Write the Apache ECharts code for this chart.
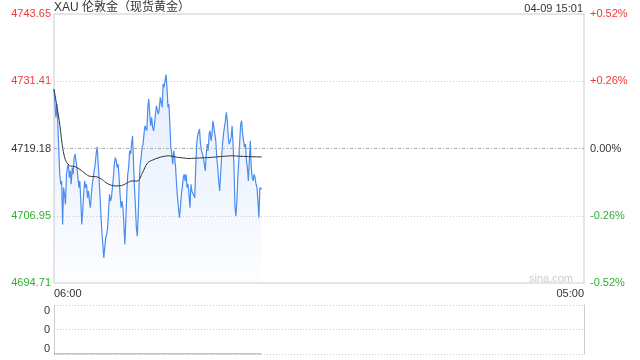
<!DOCTYPE html>
<html><head><meta charset="utf-8">
<script src="https://cdn.jsdelivr.net/npm/echarts@6/dist/echarts.min.js"></script>
<style>html,body{margin:0;padding:0;background:#fff}#c{width:640px;height:360px}</style>
</head><body><div id="c"></div>
<script>
const titleText = 'XAU 伦敦金（现货黄金）';
const stampText = '04-09 15:01';
const watermark = 'sina.com';
const startTime = '06:00';
const endTime = '05:00';
const lastTime = '15:01';
const prevClose = 4719.18;
const priceTicks = [4694.71, 4706.95, 4719.18, 4731.41, 4743.65];
const pctTicks = [-0.52, -0.26, 0, 0.26, 0.52];
const volumeTicks = [0, 1, 2];

const prices = [
4730.01,4727.28,4724.84,4727.28,4723.93,4718.76,4714.50,4712.67,4713.28,4705.37,
4712.06,4710.85,4709.02,4714.50,4715.72,4716.32,4713.89,4715.11,4712.67,4715.72,
4714.50,4717.54,4718.15,4718.15,4715.72,4713.89,4712.06,4713.28,4709.63,4705.37,
4707.81,4710.85,4713.28,4712.06,4712.67,4710.24,4711.46,4709.63,4708.41,4710.85,
4712.67,4713.89,4715.11,4716.32,4718.15,4719.49,4716.93,4713.89,4710.85,4707.20,
4704.15,4701.72,4699.29,4701.11,4702.94,4703.54,4704.76,4707.81,4710.85,4709.63,
4710.24,4712.06,4713.89,4716.32,4717.54,4716.93,4715.72,4716.32,4713.89,4710.85,
4708.41,
4709.63,4708.41,4705.37,4701.72,4705.98,4710.85,4714.50,4715.72,4718.76,4718.15,
4719.97,4721.50,4716.93,4712.06,4709.02,4704.76,4703.24,4707.20,4713.28,4716.32,
4717.54,4719.37,4719.97,4721.80,4723.32,4723.02,4722.41,4726.67,4728.19,4725.45,
4723.32,4724.84,4723.02,4722.41,4723.63,4725.45,4726.97,4726.06,4725.45,4726.36,
4728.49,4728.19,4726.67,4730.93,4730.32,4731.54,4732.63,4730.32,4726.67,4727.28,
4723.63,4719.37,4718.15,4716.32,4718.76,4717.54,4715.72,4712.67,4710.24,4708.41,
4706.59,4708.41,4710.85,4712.06,4713.89,4714.50,4713.28,4714.50,4712.06,4712.67,
4710.85,4708.41,4712.67,4711.46,
4711.46,4711.46,4710.24,4715.72,4719.97,4721.50,4722.10,4722.71,4719.97,4718.76,
4719.06,4717.54,4716.32,4715.11,4718.15,4719.97,4718.76,4721.80,4722.41,4720.58,
4721.80,4724.23,4723.02,4721.80,4720.58,4717.54,4715.72,4713.28,4711.46,4714.50,
4717.54,4719.97,4721.80,4723.02,4724.23,4725.76,4724.23,4721.19,4719.97,4720.58,
4721.19,4723.32,4719.97,4715.72,4708.41,4706.89,4709.63,4713.89,4716.93,4720.58,
4723.63,4724.23,4721.80,4720.58,4719.37,4719.97,4716.93,4715.72,4713.28,4716.93,
4720.58,4715.72,4713.89,4713.28,4714.50,4713.89,4712.67,4712.06,4709.63,4706.59,
4712.06,4712.37,4711.76
];

const avgPrices = [
4729.95,4724.29,4717.72,4716.08,4715.89,4715.35,4714.62,4714.11,4714.07,4713.70,
4712.97,4712.50,4712.37,4712.43,4712.88,4713.28,4713.25,4714.71,4716.53,4717.08,
4717.45,4717.72,4717.85,4717.72,4717.54,4717.45,4717.35,4717.41,4717.45,4717.50,
4717.54,4717.63,4717.72,4717.77,4717.85,4717.81,4717.76,4717.72,4717.68,4717.67,
4717.63
];

const volumeTimes = ['06:00', '15:01'];
const volumes = [0, 0];

function toMin(t) {
  const [h, m] = t.split(':').map(Number);
  const [sh, sm] = startTime.split(':').map(Number);
  let d = h * 60 + m - (sh * 60 + sm);
  if (d < 0) d += 1440;
  return d;
}
function fmtMin(v) {
  const [sh, sm] = startTime.split(':').map(Number);
  const t = (sh * 60 + sm + v) % 1440;
  return String(Math.floor(t / 60)).padStart(2, '0') + ':' + String(t % 60).padStart(2, '0');
}
const endMin = toMin(endTime) === 0 ? 1440 : toMin(endTime);
const lastMin = toMin(lastTime);

const priceData = prices.map((p, i) => [i * lastMin / (prices.length - 1), p]);
const avgData = avgPrices.map((p, i) => [i * lastMin / (avgPrices.length - 1), p]);
const volData = volumes.map((v, i) => [toMin(volumeTimes[i]), v]);

const RED = '#f03838', GREEN = '#2db22d', DARK = '#333';
const FONT = '"Liberation Sans", Arial, "Noto Sans CJK SC", sans-serif';
function priceColor(v) {
  v = Number(v);
  if (Math.abs(v - prevClose) < 0.005) return DARK;
  return v > prevClose ? RED : GREEN;
}
function pctColor(v) {
  v = Number(v);
  if (Math.abs(v) < 1e-6) return DARK;
  return v > 0 ? RED : GREEN;
}

const chart = echarts.init(document.getElementById('c'), null, { renderer: 'canvas' });
chart.setOption({
  animation: false,
  textStyle: { fontFamily: FONT },
  title: [
    { text: titleText, left: 54, top: 2, padding: 0,
      textStyle: { fontSize: 12, fontWeight: 'normal', color: DARK, fontFamily: FONT } },
    { text: stampText, right: 57, top: 3, padding: 0,
      textStyle: { fontSize: 11, fontWeight: 'normal', color: DARK, fontFamily: FONT } }
  ],
  graphic: [
    { type: 'text', right: 67, top: 273,
      style: { text: watermark, fill: '#cccccc', font: '11px ' + FONT } }
  ],
  grid: [
    { left: 54, right: 56, top: 14, height: 269, show: true, borderColor: '#cccccc', borderWidth: 1, backgroundColor: 'transparent' },
    { left: 54, right: 56, top: 305, height: 49 }
  ],
  xAxis: [
    { type: 'value', gridIndex: 0, min: 0, max: endMin, interval: endMin,
      axisLine: { show: false }, axisTick: { show: false }, splitLine: { show: false },
      axisLabel: { show: true, formatter: v => fmtMin(v), color: DARK, fontSize: 11, margin: 5,
        alignMinLabel: 'left', alignMaxLabel: 'right', fontFamily: FONT } },
    { type: 'value', gridIndex: 1, min: 0, max: endMin, interval: endMin,
      axisLine: { show: false }, axisTick: { show: false }, splitLine: { show: false },
      axisLabel: { show: false } }
  ],
  yAxis: [
    { type: 'value', gridIndex: 0, position: 'left', min: priceTicks[0], max: priceTicks[priceTicks.length - 1],
      axisLine: { show: false }, axisTick: { show: false, customValues: priceTicks }, splitLine: { show: false },
      axisLabel: { customValues: priceTicks, formatter: v => Number(v).toFixed(2), color: v => priceColor(v),
        fontSize: 11, margin: 3, fontFamily: FONT } },
    { type: 'value', gridIndex: 0, position: 'right', min: pctTicks[0], max: pctTicks[pctTicks.length - 1], interval: 0.26,
      axisLine: { show: false }, axisTick: { show: false },
      splitLine: { show: true, lineStyle: { color: ['rgba(0,0,0,0)', '#cfcfcf', 'rgba(0,0,0,0)', '#cfcfcf', 'rgba(0,0,0,0)'], type: [1, 2], width: 1 } },
      axisLabel: { formatter: v => { const n = Number(v); return (n > 1e-6 ? '+' : '') + n.toFixed(2) + '%'; },
        color: v => pctColor(v), fontSize: 11, margin: 6, fontFamily: FONT } },
    { type: 'value', gridIndex: 1, position: 'left', min: volumeTicks[0], max: volumeTicks[volumeTicks.length - 1], interval: 1,
      axisLine: { show: true, lineStyle: { color: '#cccccc' } }, axisTick: { show: false },
      splitLine: { show: true, lineStyle: { color: '#c8c8c8', type: [1, 2] } },
      axisLabel: { formatter: () => '0', color: DARK, fontSize: 11, margin: 4,
        verticalAlignMinLabel: 'bottom', verticalAlignMaxLabel: 'top', fontFamily: FONT } },
    { type: 'value', gridIndex: 1, position: 'right', min: volumeTicks[0], max: volumeTicks[volumeTicks.length - 1], interval: 1,
      axisLine: { show: true, lineStyle: { color: '#cccccc' } }, axisTick: { show: false },
      splitLine: { show: false }, axisLabel: { show: false } }
  ],
  series: [
    { name: 'price', type: 'line', xAxisIndex: 0, yAxisIndex: 0, data: priceData,
      symbol: 'none', lineStyle: { color: '#4a8cf0', width: 1.2 },
      areaStyle: { origin: 'start', color: new echarts.graphic.LinearGradient(0, 0, 0, 1, [
        { offset: 0, color: 'rgba(74,140,240,0.22)' },
        { offset: 1, color: 'rgba(74,140,240,0.02)' }
      ]) },
      markLine: { silent: true, symbol: 'none', label: { show: false },
        lineStyle: { color: '#aaaaaa', type: [3, 2, 1, 2], width: 1 },
        data: [{ yAxis: prevClose }] },
      z: 3 },
    { name: 'avg', type: 'line', xAxisIndex: 0, yAxisIndex: 0, data: avgData, smooth: 0.4,
      symbol: 'none', lineStyle: { color: '#333333', width: 1 }, z: 4 },
    { name: 'volume', type: 'line', xAxisIndex: 1, yAxisIndex: 2, data: volData,
      symbol: 'none', lineStyle: { color: '#8a8a8a', width: 1 }, z: 4 }
  ]
});
</script>
</body></html>
